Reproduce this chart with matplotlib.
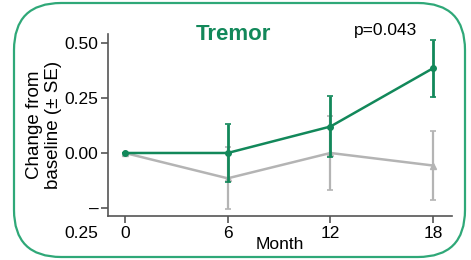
import matplotlib
matplotlib.use("Agg")
import matplotlib.pyplot as plt
from matplotlib.patches import FancyBboxPatch
from matplotlib.transforms import ScaledTranslation

plt.rcParams["font.family"] = ["Liberation Sans", "DejaVu Sans"]

# data
months = [0, 6, 12, 18]
active = [0.0, 0.0, 0.12, 0.385]
active_se = [0.0, 0.13, 0.14, 0.13]
placebo = [0.0, -0.115, 0.0, -0.057]
placebo_se = [0.0, 0.14, 0.168, 0.157]

yticks = [-0.25, 0.0, 0.25, 0.50]
ytick_labels = ["–\n0.25", "0.00", "0.25", "0.50"]
xticks = [0, 6, 12, 18]

green = "#12885a"
gray = "#b4b4b4"

fig = plt.figure(figsize=(4.71, 2.60), dpi=100)

# rounded frame around the panel
frame = FancyBboxPatch((14 / 471, 3 / 260), 451 / 471, 254 / 260,
                       boxstyle="round,pad=0,rounding_size=0.1",
                       transform=fig.transFigure, facecolor="white",
                       edgecolor="#2fa878", linewidth=1.6,
                       mutation_aspect=471 / 260, zorder=-5)
fig.patches.append(frame)

ax = fig.add_axes([108 / 471, 44 / 260, 344 / 471, 182 / 260])
ax.set_zorder(2)
ax.patch.set_alpha(0)

ax.errorbar(months, placebo, yerr=placebo_se, color=gray, lw=1.8,
            elinewidth=1.6, capsize=2, capthick=1.2, marker="^", ms=4,
            zorder=2)
ax.errorbar(months, active, yerr=active_se, color=green, lw=1.8,
            elinewidth=2.0, capsize=2, capthick=1.2, marker="o", ms=4,
            zorder=3)

for side in ["top", "right"]:
    ax.spines[side].set_visible(False)
for side in ["left", "bottom"]:
    ax.spines[side].set_color("#555555")
    ax.spines[side].set_linewidth(1.2)
ax.tick_params(color="#555555", length=5, width=1.2, pad=2)

ax.set_xlim(-0.99, 19.1)
ax.set_ylim(-0.286, 0.54)
ax.set_xticks(xticks)
ax.set_xticklabels([str(m) for m in xticks], fontsize=12.5)
ax.set_yticks(yticks)
ax.set_yticklabels(ytick_labels, fontsize=12.5, linespacing=1.75)
# the wrapped "–0.25" label hangs below its tick
low = ax.yaxis.get_major_ticks()[0].label1
low.set_verticalalignment("top")
low.set_multialignment("right")
low.set_transform(low.get_transform()
                  + ScaledTranslation(0, 6 / 100, fig.dpi_scale_trans))

ax.set_xlabel("Month", fontsize=12.5, labelpad=-3)
ax.set_ylabel("Change from\nbaseline (± SE)", fontsize=13.5, labelpad=2,
              linespacing=1.1)

fig.text(233 / 471, 226 / 260, "Tremor", color=green, fontsize=16,
         fontweight="bold", ha="center", va="center")
fig.text(386 / 471, 229 / 260, "p=0.043", fontsize=12.5, ha="center",
         va="center")

fig.savefig("out.png", dpi=100)
